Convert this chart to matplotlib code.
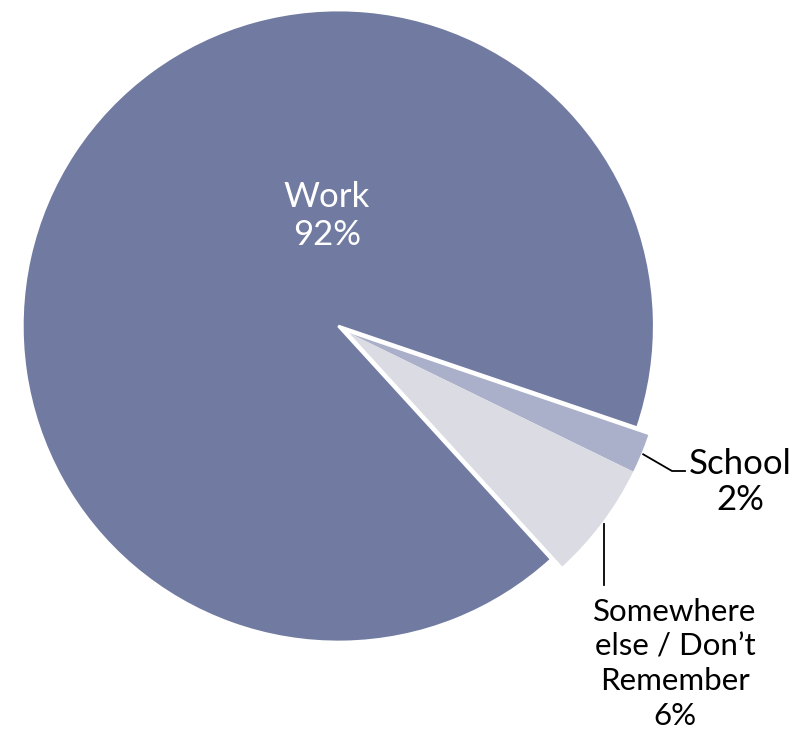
import numpy as np
import matplotlib
matplotlib.use("Agg")
import matplotlib.pyplot as plt

# where the shoes were bought / used
categories = ["Work", "School", "Somewhere else / Don\u2019t Remember"]
shares = [92, 2, 6]
label_texts = ["Work\n92%", "School\n2%", "Somewhere\nelse / Don\u2019t\nRemember\n6%"]
colors = ["#717aa0", "#aab0c9", "#dbdbe3"]

plt.rcParams["font.family"] = ["Lato", "DejaVu Sans"]

W, H = 807, 735
fig = plt.figure(figsize=(W / 100, H / 100), dpi=100)
ax = fig.add_axes([0, 0, 1, 1])

cx, cy, R = 338.3, H - 326, 316
wedges, _ = ax.pie(shares, colors=colors, center=(cx, cy), radius=R,
                   startangle=-47.6, counterclock=False,
                   wedgeprops=dict(edgecolor="white", linewidth=2))
ax.set_xlim(0, W)
ax.set_ylim(0, H)
ax.set_aspect("equal")
ax.axis("off")

# pull the two small slices out together, as one block
small = wedges[1:]
lo = min(w.theta1 for w in small)
hi = max(w.theta2 for w in small)
mid = np.deg2rad((lo + hi) / 2)
shift = 13
for w in small:
    w.set_center((cx + shift * np.cos(mid), cy + shift * np.sin(mid)))
    w.set_linewidth(0)


def arc_mid(w):
    ang = np.deg2rad((w.theta1 + w.theta2) / 2)
    x0, y0 = w.center
    return x0 + (w.r + 2) * np.cos(ang), y0 + (w.r + 2) * np.sin(ang)


# Work label inside the big slice
ax.text(327, H - 216, label_texts[0], ha="center", va="center",
        fontsize=25, color="white", linespacing=1.2)

# School label with elbow leader
sx, sy = arc_mid(wedges[1])
ax.plot([sx, 672, 685], [sy, H - 471, H - 471], color="black", lw=1.3)
ax.text(740, H - 482, label_texts[1], ha="center", va="center",
        fontsize=25, color="black", linespacing=1.15)

# Somewhere else label below, vertical leader
ox, oy = arc_mid(wedges[2])
ax.plot([ox, ox], [oy, H - 585], color="black", lw=1.3)
ax.text(675, H - 664, label_texts[2], ha="center", va="center",
        fontsize=22.5, color="black", linespacing=1.28)

fig.savefig("out.png", dpi=100)
